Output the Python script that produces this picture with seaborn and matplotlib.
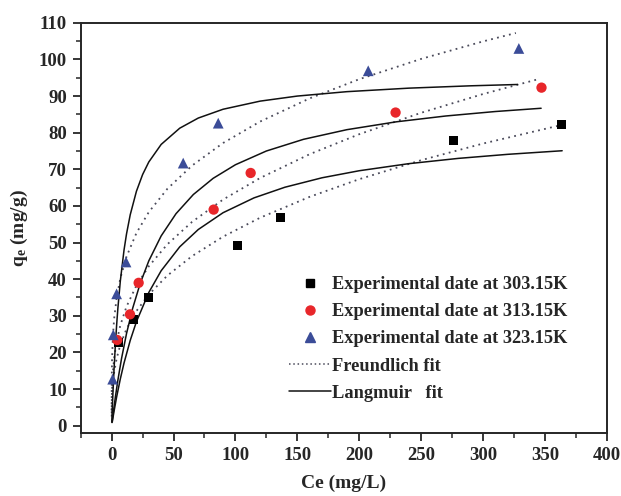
import matplotlib
matplotlib.use("Agg")
import matplotlib.pyplot as plt
import seaborn as sns
import pandas as pd
from matplotlib.lines import Line2D
from matplotlib.ticker import MultipleLocator

# ---------------- experimental data ----------------
ce_303 = [5.3, 17.8, 30.1, 102.0, 136.7, 276.5, 363.5]
qe_303 = [22.7, 28.9, 35.0, 49.2, 56.9, 77.9, 82.3]
ce_313 = [4.5, 14.8, 21.8, 82.4, 112.3, 229.4, 347.3]
qe_313 = [23.4, 30.4, 39.0, 59.0, 69.0, 85.5, 92.3]
ce_323 = [0.8, 1.3, 4.0, 11.6, 57.8, 86.1, 207.3, 329.0]
qe_323 = [12.7, 24.8, 36.0, 44.7, 71.7, 82.6, 96.9, 103.0]

# ---------------- Langmuir fit curves ----------------
lc_303 = [0.5, 1, 2, 4, 7, 10, 15, 20, 30, 40, 55, 70, 90, 115, 140, 170, 200, 240, 280, 320, 364]
lq_303 = [1.07, 2.10, 4.10, 7.82, 12.78, 17.13, 23.29, 28.39, 36.37, 42.31, 48.84, 53.57, 58.15,
          62.20, 65.11, 67.69, 69.61, 71.54, 72.98, 74.09, 75.07]
lc_313 = [0.3, 0.7, 1.5, 3, 5, 8, 12, 17, 23, 30, 40, 52, 66, 82, 100, 125, 155, 190, 230, 270, 310, 347]
lq_313 = [0.85, 1.95, 4.09, 7.84, 12.39, 18.39, 25.15, 32.09, 38.79, 45.0, 51.82, 57.89, 63.12,
          67.54, 71.25, 75.0, 78.19, 80.82, 82.97, 84.56, 85.78, 86.67]
lc_323 = [0.1, 0.5, 1, 2, 3, 4, 5, 7, 10, 12, 15, 20, 25, 30, 40, 55, 70, 90, 120, 150, 190, 240, 290, 328]
lq_323 = [0.95, 4.57, 8.73, 16.0, 22.15, 27.43, 32.0, 39.53, 48.0, 52.36, 57.6, 64.0, 68.57, 72.0,
          76.8, 81.23, 84.0, 86.4, 88.62, 90.0, 91.2, 92.16, 92.8, 93.16]

# ---------------- Freundlich fit curves ----------------
fc_303 = [0.01, 0.05, 0.2, 0.5, 1, 2, 4, 7, 12, 20, 30, 45, 65, 90, 120, 160, 200, 250, 300, 363.5]
fq_303 = [2.50, 4.27, 6.77, 9.18, 11.56, 14.56, 18.33, 22.08, 26.41, 31.30, 35.82, 40.99, 46.31,
          51.61, 56.79, 62.49, 67.30, 72.48, 77.03, 82.10]
fc_313 = [0.01, 0.05, 0.2, 0.5, 1, 2, 4, 7, 12, 20, 30, 45, 65, 90, 120, 160, 200, 250, 300, 346]
fq_313 = [3.41, 5.69, 8.85, 11.84, 14.76, 18.40, 22.94, 27.41, 32.53, 38.27, 43.53, 49.53, 55.66,
          61.74, 67.64, 74.13, 79.58, 85.43, 90.55, 94.73]
fc_323 = [0.001, 0.005, 0.02, 0.1, 0.3, 1, 2, 4, 7, 12, 20, 30, 45, 65, 90, 120, 160, 200, 250, 300, 326.6]
fq_323 = [4.21, 6.35, 9.04, 13.62, 18.02, 24.5, 29.24, 34.89, 40.24, 46.17, 52.60, 58.32, 64.68,
          71.03, 77.18, 83.05, 89.37, 94.60, 100.14, 104.92, 107.22]

labels = ["Experimental date at 303.15K", "Experimental date at 313.15K",
          "Experimental date at 323.15K", "Freundlich fit", "Langmuir   fit"]
x_label = "Ce (mg/L)"
y_label = r"$\mathbf{q_e}$ (mg/g)"

sns.set_style("ticks")
plt.rcParams["font.family"] = ["Liberation Serif", "DejaVu Serif"]
plt.rcParams["font.weight"] = "bold"
plt.rcParams["mathtext.fontset"] = "custom"
plt.rcParams["mathtext.rm"] = "Liberation Serif:bold"
plt.rcParams["mathtext.bf"] = "Liberation Serif:bold"
plt.rcParams["mathtext.it"] = "Liberation Serif:bold"

fig = plt.figure(figsize=(6.21, 4.96), dpi=100)
ax = fig.add_axes([0.130, 0.127, 0.847, 0.827])

black = "#000000"
red = "#e8262a"
blue = "#3b4c98"
dot_col = "#4a4a5a"

for c, q in [(fc_303, fq_303), (fc_313, fq_313), (fc_323, fq_323)]:
    sns.lineplot(x=c, y=q, ax=ax, color=dot_col, linewidth=1.3, linestyle=(0, (1, 2.4)),
                 estimator=None, sort=False, legend=False)
for c, q in [(lc_303, lq_303), (lc_313, lq_313), (lc_323, lq_323)]:
    sns.lineplot(x=c, y=q, ax=ax, color="#111111", linewidth=1.1,
                 estimator=None, sort=False, legend=False)

sns.scatterplot(x=ce_303, y=qe_303, ax=ax, marker="s", s=42, color=black, edgecolor="none", zorder=5)
sns.scatterplot(x=ce_313, y=qe_313, ax=ax, marker="o", s=55, color=red, edgecolor="none", zorder=5)
sns.scatterplot(x=ce_323, y=qe_323, ax=ax, marker="^", s=60, color=blue, edgecolor="none", zorder=5)

ax.set_xlim(-25, 400)
ax.set_ylim(-2, 110)
ax.xaxis.set_major_locator(MultipleLocator(50))
ax.xaxis.set_minor_locator(MultipleLocator(25))
ax.yaxis.set_major_locator(MultipleLocator(10))
ax.yaxis.set_minor_locator(MultipleLocator(5))
ax.tick_params(which="major", direction="out", length=6, width=1.3, labelsize=13.5, pad=4)
ax.tick_params(which="minor", direction="out", length=3.5, width=1.1)
for lab in ax.get_xticklabels() + ax.get_yticklabels():
    lab.set_fontweight("bold")
for sp in ax.spines.values():
    sp.set_linewidth(1.4)
    sp.set_visible(True)

ax.set_xlabel(x_label, fontsize=14, fontweight="bold", labelpad=8)
ax.set_ylabel(y_label, fontsize=14, fontweight="bold", labelpad=6)

handles = [
    Line2D([], [], marker="s", color=black, linestyle="none", markersize=5.5),
    Line2D([], [], marker="o", color=red, linestyle="none", markersize=6.5),
    Line2D([], [], marker="^", color=blue, linestyle="none", markersize=6.5),
    Line2D([], [], color=dot_col, linewidth=1.1, linestyle=(0, (1, 1.8))),
    Line2D([], [], color="#111111", linewidth=1.1),
]
leg = ax.legend(handles, labels, loc="upper left", bbox_to_anchor=(0.382, 0.40),
                frameon=False, fontsize=13.2, handlelength=2.3, handletextpad=0.05,
                labelspacing=0.55, borderaxespad=0)
for t in leg.get_texts():
    t.set_fontweight("bold")

fig.savefig("out.png", dpi=100)
